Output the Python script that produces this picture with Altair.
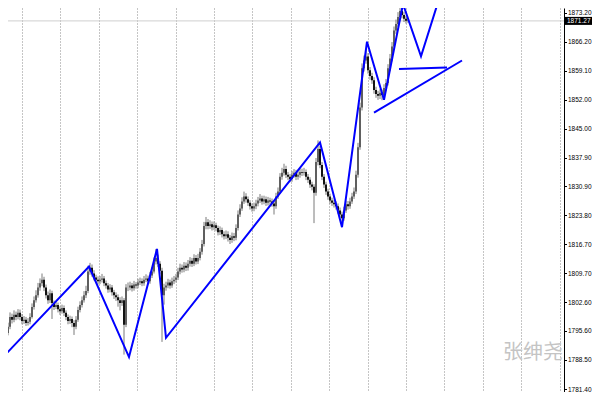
import altair as alt
import pandas as pd

# ---------------- data ----------------
closes = [
    1791.8, 1792.7, 1793.5, 1795.1, 1796.6, 1799.0, 1798.3, 1799.5, 1799.0, 1800.0,
    1799.0, 1798.0, 1798.3, 1797.5, 1797.8, 1799.0, 1801.4, 1803.1, 1804.3, 1806.2,
    1807.2, 1808.1, 1806.2, 1804.3, 1803.1, 1804.8, 1802.4, 1801.4, 1801.9, 1800.9,
    1800.4, 1801.2, 1800.0, 1799.0, 1798.0, 1798.5, 1797.5, 1796.6, 1798.3, 1800.7,
    1801.9, 1803.1, 1804.3, 1805.3, 1810.1, 1811.0, 1809.6, 1808.6, 1808.1, 1807.7,
    1808.1, 1808.4, 1807.2, 1806.7, 1805.7, 1806.2, 1805.0, 1804.3, 1803.8, 1803.1,
    1802.4, 1803.1, 1797.1, 1806.2, 1806.2, 1806.7, 1806.0, 1806.9, 1806.7, 1807.4,
    1807.7, 1807.2, 1808.1, 1808.4, 1807.7, 1809.1, 1810.1, 1812.5, 1813.4, 1812.0,
    1810.3, 1804.3, 1806.2, 1806.7, 1807.4, 1806.7, 1807.7, 1808.1, 1808.6, 1810.1,
    1811.0, 1810.6, 1811.5, 1811.0, 1812.0, 1812.7, 1812.0, 1813.4, 1812.5, 1813.4,
    1814.9, 1816.8, 1821.2, 1822.1, 1821.2, 1821.6, 1820.9, 1821.4, 1820.7, 1819.7,
    1820.2, 1819.2, 1818.7, 1819.2, 1818.3, 1817.8, 1818.7, 1818.3, 1820.7, 1824.0,
    1825.5, 1827.2, 1828.4, 1827.7, 1826.9, 1826.0, 1825.5, 1826.0, 1826.7, 1827.4,
    1827.9, 1827.2, 1827.7, 1826.9, 1827.4, 1827.2, 1826.7, 1826.0, 1828.4, 1829.6,
    1833.2, 1834.2, 1835.1, 1833.7, 1833.2, 1832.7, 1833.7, 1834.2, 1833.2, 1833.7,
    1834.4, 1834.2, 1834.4, 1833.2, 1832.5, 1831.3, 1830.8, 1829.3, 1836.8, 1840.0,
    1836.1, 1833.2, 1831.3, 1829.6, 1828.4, 1827.4, 1826.9, 1826.5, 1826.0, 1825.0,
    1824.0, 1823.1, 1825.0, 1826.5, 1826.0, 1827.2, 1828.4, 1829.6, 1833.7, 1840.4,
    1850.1, 1859.7, 1861.6, 1862.6, 1859.2, 1857.8, 1856.8, 1854.4, 1853.4, 1853.0,
    1853.7, 1853.2, 1854.9, 1856.1, 1859.7, 1862.1, 1865.0, 1868.9, 1870.5, 1872.2,
    1873.7, 1872.7, 1871.8, 1871.3, 1871.27,
]
highs = [
    1792.6, 1793.6, 1794.4, 1796.0, 1797.6, 1800.1, 1799.8, 1800.6, 1800.3, 1800.9,
    1800.8, 1799.7, 1799.2, 1799.0, 1798.7, 1799.9, 1802.3, 1804.0, 1805.5, 1807.3,
    1808.4, 1809.6, 1808.8, 1806.9, 1805.2, 1805.7, 1805.4, 1803.0, 1802.8, 1802.5,
    1801.6, 1802.0, 1801.8, 1800.6, 1799.6, 1799.3, 1799.1, 1798.2, 1799.2, 1801.5,
    1802.8, 1804.0, 1805.3, 1806.6, 1811.5, 1812.2, 1811.8, 1810.4, 1809.3, 1808.9,
    1809.0, 1809.5, 1809.0, 1807.9, 1807.3, 1807.0, 1806.8, 1805.6, 1805.0, 1804.5,
    1803.8, 1804.0, 1803.6, 1807.0, 1807.4, 1807.6, 1807.3, 1807.8, 1807.5, 1808.3,
    1808.6, 1808.4, 1809.0, 1809.4, 1809.1, 1810.0, 1811.1, 1813.5, 1815.6, 1814.2,
    1812.6, 1811.0, 1807.1, 1807.6, 1808.3, 1808.1, 1808.6, 1809.0, 1809.5, 1811.0,
    1812.0, 1811.8, 1812.4, 1812.3, 1812.9, 1813.6, 1813.4, 1814.3, 1814.1, 1814.4,
    1815.8, 1817.8, 1822.2, 1823.4, 1822.9, 1822.6, 1822.3, 1822.3, 1822.0, 1821.3,
    1821.1, 1820.8, 1819.9, 1820.1, 1819.9, 1819.0, 1819.6, 1819.5, 1821.6, 1825.0,
    1826.5, 1828.2, 1829.6, 1829.2, 1828.4, 1827.5, 1826.7, 1826.9, 1827.6, 1828.3,
    1829.0, 1828.6, 1828.6, 1828.4, 1828.3, 1828.1, 1827.9, 1827.4, 1829.3, 1830.6,
    1834.1, 1835.4, 1836.4, 1835.9, 1834.4, 1833.9, 1834.6, 1835.1, 1834.9, 1834.6,
    1835.3, 1835.2, 1835.4, 1835.0, 1833.9, 1833.1, 1832.0, 1831.4, 1837.8, 1842.1,
    1840.8, 1836.8, 1833.9, 1832.0, 1830.3, 1829.1, 1828.1, 1827.6, 1827.2, 1826.7,
    1825.7, 1824.7, 1825.9, 1827.4, 1827.3, 1828.1, 1829.3, 1830.6, 1834.7, 1841.5,
    1851.3, 1860.9, 1862.8, 1864.2, 1863.4, 1860.0, 1858.6, 1857.5, 1855.2, 1854.2,
    1854.6, 1854.5, 1855.8, 1857.1, 1860.7, 1863.2, 1866.1, 1869.9, 1871.6, 1873.4,
    1874.6, 1874.4, 1873.5, 1872.5, 1871.9,
]
lows = [
    1789.9, 1791.0, 1791.9, 1793.0, 1794.5, 1796.0, 1797.4, 1797.7, 1798.2, 1798.4,
    1798.2, 1797.2, 1797.3, 1796.8, 1796.9, 1797.2, 1798.6, 1800.8, 1802.5, 1803.7,
    1805.4, 1806.5, 1805.3, 1803.5, 1802.2, 1802.4, 1798.5, 1800.7, 1800.9, 1800.1,
    1799.5, 1799.8, 1799.2, 1798.2, 1797.2, 1797.3, 1796.5, 1794.6, 1796.0, 1797.8,
    1800.1, 1801.3, 1802.5, 1803.6, 1804.8, 1809.3, 1808.8, 1807.9, 1807.3, 1806.9,
    1807.0, 1807.4, 1806.5, 1805.9, 1804.9, 1805.0, 1804.2, 1803.4, 1802.9, 1801.5,
    1800.6, 1801.7, 1789.8, 1796.5, 1805.3, 1805.5, 1805.2, 1805.4, 1805.9, 1806.0,
    1806.8, 1806.5, 1806.6, 1807.5, 1806.9, 1807.1, 1808.5, 1809.6, 1811.8, 1811.2,
    1809.4, 1792.9, 1802.0, 1805.4, 1806.0, 1805.9, 1806.1, 1807.0, 1807.4, 1808.0,
    1809.4, 1809.8, 1809.9, 1810.2, 1810.3, 1811.3, 1811.2, 1811.4, 1811.8, 1811.9,
    1812.8, 1814.2, 1816.2, 1820.4, 1820.4, 1820.5, 1820.1, 1820.2, 1819.9, 1818.9,
    1819.0, 1818.4, 1817.9, 1818.0, 1817.4, 1816.8, 1817.1, 1817.5, 1817.7, 1820.1,
    1823.4, 1824.9, 1826.6, 1826.9, 1826.1, 1825.2, 1824.7, 1824.8, 1825.3, 1826.0,
    1826.8, 1826.4, 1826.5, 1826.1, 1826.2, 1826.4, 1825.9, 1824.0, 1825.4, 1827.8,
    1829.0, 1832.5, 1833.5, 1832.9, 1832.4, 1831.9, 1832.0, 1833.0, 1832.4, 1832.5,
    1833.0, 1833.4, 1833.5, 1832.4, 1831.7, 1830.5, 1829.9, 1821.9, 1828.6, 1836.0,
    1835.3, 1832.4, 1830.5, 1828.8, 1827.6, 1826.6, 1826.1, 1825.7, 1825.2, 1824.2,
    1823.2, 1822.1, 1822.5, 1824.4, 1825.2, 1825.4, 1826.6, 1827.8, 1829.0, 1833.0,
    1839.8, 1849.4, 1858.9, 1860.8, 1858.4, 1856.9, 1855.9, 1853.5, 1852.5, 1852.0,
    1852.2, 1851.9, 1852.6, 1854.2, 1855.5, 1859.0, 1861.4, 1864.3, 1868.1, 1869.8,
    1871.4, 1871.9, 1871.0, 1870.6, 1870.8,
]
first_open = 1790.9

# zigzag (bar index, price)
zigzag_bar = [0, 44.5, 64.5, 78.5, 83, 160, 171, 183.5, 192, 201.5, 210.5, 219.5, 224]
zigzag_price = [1788.4, 1811.3, 1789.2, 1815.6, 1793.9, 1841.6, 1820.9, 1866.2,
                1852.0, 1875.4, 1862.6, 1876.6, 1883.6]
# triangle lines
tri_upper_bar = [199.5, 223.5]
tri_upper_price = [1859.5, 1859.9]
tri_lower_bar = [187, 231]
tri_lower_price = [1848.9, 1861.6]

y_ticks = [1873.2, 1866.2, 1859.1, 1852.0, 1845.0, 1837.9, 1830.9, 1823.8,
           1816.7, 1809.7, 1802.6, 1795.6, 1788.5, 1781.4]
x_grid = [11, 30.2, 49.4, 68.6, 87.8, 107, 126.2, 145.4, 164.6, 183.8, 203,
          222.2, 241.4, 260.6, 279.8]
last_price = 1871.27
watermark = "张绅尧"

# ---------------- build tables ----------------
opens = [first_open] + closes[:-1]
bars = pd.DataFrame({
    "bar": list(range(len(closes))),
    "open": opens, "high": highs, "low": lows, "close": closes,
})
lines = pd.DataFrame(
    [{"seg": "zz", "bar": b, "price": p} for b, p in zip(zigzag_bar, zigzag_price)]
    + [{"seg": "ta", "bar": b, "price": p} for b, p in zip(tri_upper_bar, tri_upper_price)]
    + [{"seg": "tb", "bar": b, "price": p} for b, p in zip(tri_lower_bar, tri_lower_price)]
)
lines["ord"] = range(len(lines))

W, H = 556, 384
PAD_R = 28
xs = alt.Scale(domain=[4, 4 + W / 2], nice=False, zero=False)
ys = alt.Scale(domain=[1780.67, 1874.42], nice=False, zero=False)

FONT = "Liberation Sans, Arial"
FS = 6.5

x_axis = alt.Axis(
    values=x_grid, tickCount=60, grid=True, gridDash=[1, 2], gridColor="#8a8a8a",
    gridWidth=1, labels=False, ticks=False, domain=False, title=None,
    labelOverlap=False)
y_axis = alt.Axis(
    orient="right", values=y_ticks, tickCount=60, format=".2f", title=None,
    grid=False, labelFont=FONT, labelFontSize=FS, labelColor="#000",
    tickColor="#000", tickSize=2.5, labelPadding=1, domainColor="#000",
    domainWidth=1, labelOverlap=False, labelBound=False, labelFlush=False)

base = alt.Chart(bars)

wick = base.mark_rule(color="#7a7a7a", strokeWidth=1, clip=True).encode(
    x=alt.X("bar:Q", scale=xs, axis=x_axis),
    y=alt.Y("low:Q", scale=ys, axis=y_axis),
    y2="high:Q",
)
body = base.mark_rule(strokeWidth=1.8, clip=True).encode(
    x=alt.X("bar:Q", scale=xs, axis=x_axis),
    y=alt.Y("open:Q", scale=ys, axis=y_axis),
    y2="close:Q",
    color=alt.condition("datum.close >= datum.open", alt.value("#555555"), alt.value("#000000")),
)

price_line = alt.Chart(pd.DataFrame({"p": [last_price]})).mark_rule(
    color="#cfcfcf", strokeWidth=1).encode(y=alt.Y("p:Q", scale=ys, axis=y_axis))

blue = alt.Chart(lines).mark_line(color="#0000ff", strokeWidth=2, clip=True).encode(
    x=alt.X("bar:Q", scale=xs, axis=x_axis),
    y=alt.Y("price:Q", scale=ys, axis=y_axis),
    detail="seg:N",
    order="ord:Q",
)

lbl_df = pd.DataFrame({"p": [last_price], "t": [f"{last_price:.2f}"]})
lbl_box = alt.Chart(lbl_df).mark_rule(color="#000", strokeWidth=8, clip=False).encode(
    x=alt.value(W + 1), x2=alt.value(W + PAD_R), y=alt.Y("p:Q", scale=ys, axis=y_axis))
lbl_txt = alt.Chart(lbl_df).mark_text(
    color="#fff", align="left", baseline="middle", font=FONT, fontSize=FS, clip=False
).encode(x=alt.value(W + 3), y=alt.Y("p:Q", scale=ys, axis=y_axis), text="t:N")

wm = alt.Chart(pd.DataFrame({"t": [watermark]})).mark_text(
    color="#c4c4c4", fontSize=20, font="Noto Sans CJK SC", align="center", baseline="middle"
).encode(x=alt.value(525), y=alt.value(345), text="t:N")

chart = alt.layer(price_line, wick, body, blue, wm, lbl_box, lbl_txt).properties(
    width=W, height=H,
    autosize=alt.AutoSizeParams(type="none"),
    padding={"left": 0, "top": 0, "right": PAD_R, "bottom": 0},
    background="#ffffff",
).configure_view(stroke=None)

chart.save("out.html", embed_options={"renderer": "svg", "actions": False})
